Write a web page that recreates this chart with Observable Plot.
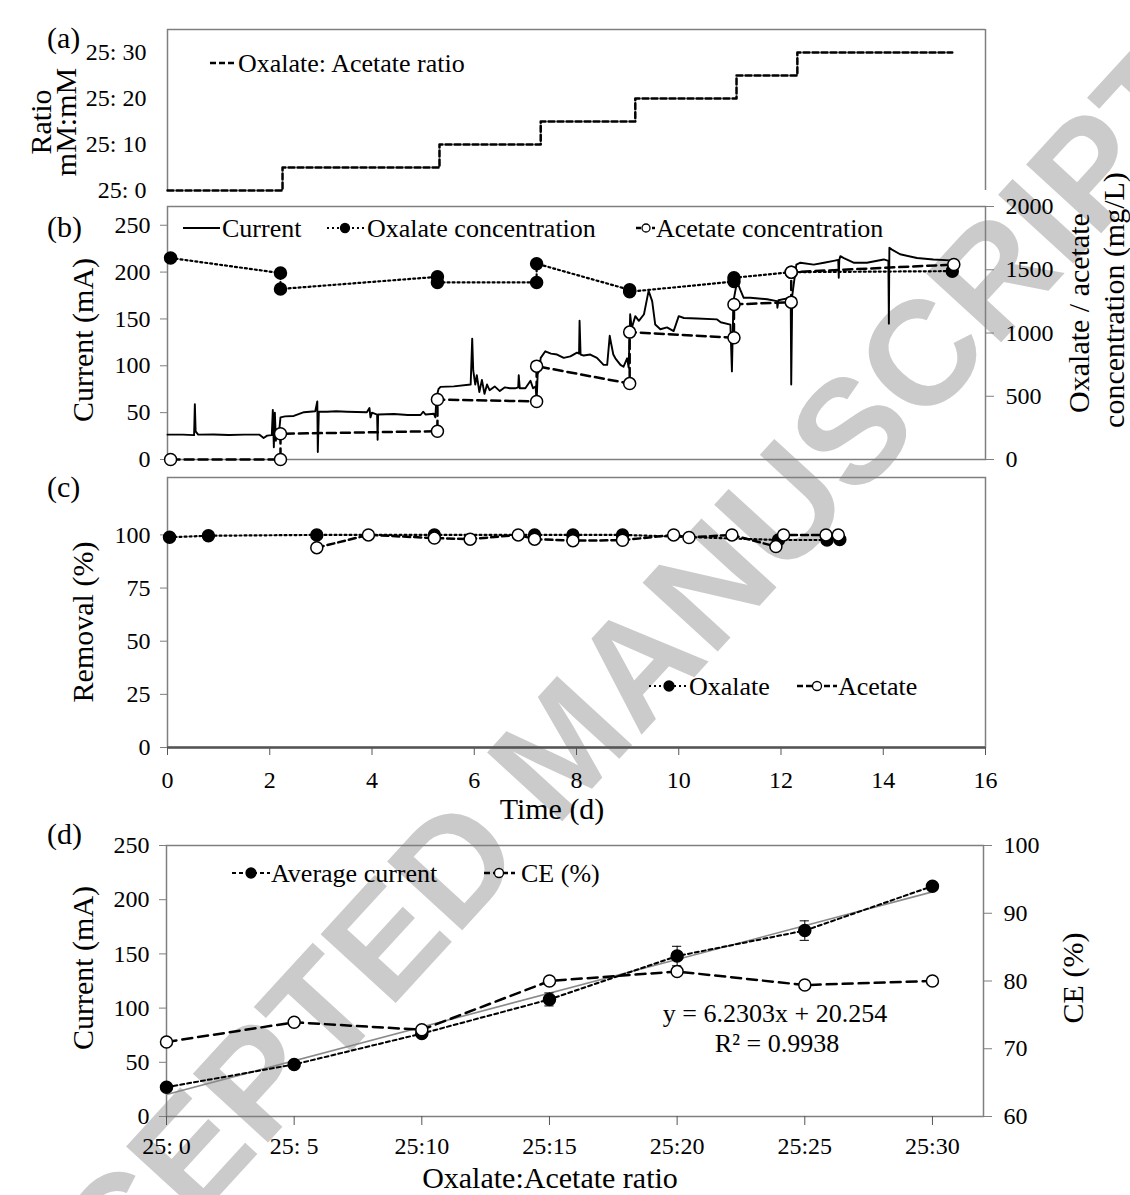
<!DOCTYPE html>
<html>
<head>
<meta charset="utf-8">
<script src="https://cdn.jsdelivr.net/npm/d3@7"></script>
<script src="https://cdn.jsdelivr.net/npm/@observablehq/plot@0.6"></script>
<style>
  body { margin: 0; background: #fff; }
  #wrap { position: relative; width: 1130px; height: 1195px; overflow: hidden; background: #fff; }
  #wrap > svg { position: absolute; left: 0; }
</style>
</head>
<body>
<div id="wrap"></div>
<script>
// ---------------- DATA ----------------
// (a) ratio steps (time d, acetate mM with oxalate fixed at 25 mM)
const ratioStepT = [0, 2.25, 5.32, 7.3, 9.15, 11.13, 12.32, 15.35];
const ratioStepV = [0, 5, 10, 15, 20, 25, 30, 30];
const ratioTicks = [0, 10, 20, 30];
const ratioTickLabels = ["25: 0", "25: 10", "25: 20", "25: 30"];

// (b) current trace (time d, mA)
const currentT = [0.00,0.30,0.52,0.535,0.55,0.60,0.90,1.20,1.50,1.80,
  1.88,1.95,2.04,2.06,2.08,2.10,2.12,2.14,2.18,2.21,
  2.30,2.47,2.67,2.89,2.93,2.94,2.96,3.12,3.30,3.51,
  3.90,3.95,3.97,4.00,4.10,4.11,4.12,4.43,4.70,4.95,
  5.00,5.05,5.21,5.24,5.26,5.30,5.34,5.60,5.93,5.96,
  5.98,6.02,6.05,6.10,6.15,6.20,6.25,6.30,6.40,6.50,
  6.60,6.70,6.80,6.86,6.87,6.89,7.00,7.10,7.15,7.20,
  7.22,7.24,7.27,7.30,7.39,7.50,7.62,7.75,7.88,8.01,
  8.05,8.06,8.08,8.14,8.27,8.40,8.53,8.60,8.65,8.68,
  8.72,8.76,8.86,8.92,8.99,9.02,9.05,9.08,9.15,9.22,
  9.32,9.41,9.48,9.54,9.64,9.77,9.90,10.00,10.10,10.36,
  10.75,10.82,11.01,11.04,11.06,11.07,11.14,11.20,11.27,11.40,
  11.73,11.92,11.93,11.95,12.12,12.17,12.19,12.20,12.22,12.30,
  12.38,12.64,12.84,13.03,13.12,13.13,13.14,13.16,13.23,13.42,
  13.68,14.01,14.10,14.11,14.12,14.17,14.33,14.66,14.98,15.31,
  15.36];
const currentMA = [26.5,26.5,26,59,30,26.5,26.7,26.2,26.5,26.5,
  23,25.5,26,53,13,50,20,32,28,45,
  46,46.5,50.5,51.5,62,8,51,51,51.5,51,
  50.5,55,45,50,48,21,48,48.5,47.5,47.5,
  51,48,48.8,45,66,75,77.5,78,80,129,
  95,80,90,72,85,70,80,74,78,73,
  77,76,76,77,90,76,76,84,76,78,
  62,91,95,108.5,115.5,113,112,108.5,110,114,
  113,148,112,111,112,108.5,101,101,132,123,
  112,108,101,99,108,98,155,140,153,148,
  155,180,169,144,139,141,137,153,151,150.5,
  149.5,146.5,144,94,145,169,190,181.5,172.6,172.6,
  171,169,162,170,172,169,172,80,175,208,
  210,208,210,212,213,194,213,217,215,210,
  210,213.5,212,145,226,224,219,215,213.5,212.5,
  212];
// (b) concentrations (time d, mg/L)
const oxConcT = [0.06,2.21,2.21,5.28,5.28,7.22,7.22,9.04,9.04,11.08,11.08,12.2,15.35];
const oxConc  = [1593,1474,1348,1444,1400,1400,1548,1341,1326,1407,1437,1481,1489];
const acConcT = [0.06,2.21,2.21,5.28,5.28,7.22,7.22,9.04,9.04,11.08,11.08,12.2,12.2,15.38];
const acConc  = [0,0,203,224,474,459,738,600,1007,963,1226,1244,1481,1541];
const currentTicks = [0, 50, 100, 150, 200, 250];
const concTicks = [0, 500, 1000, 1500, 2000];

// (c) removal (%)
const oxRemT = [0.04, 0.8, 2.92, 5.22, 7.18, 7.93, 8.9, 11.95, 12.9, 13.15];
const oxRem  = [98.9, 99.6, 100, 100, 100, 100, 100, 97.6, 97.6, 97.8];
const acRemT = [2.92, 3.93, 5.22, 5.92, 6.86, 7.18, 7.93, 8.9, 9.9, 10.2, 11.04, 11.9, 12.05, 12.88, 13.12];
const acRem  = [94, 100, 98.5, 98, 100, 98, 97.3, 97.5, 100, 98.8, 100, 94.5, 100, 100, 100];
const removalTicks = [0, 25, 50, 75, 100];
const timeTicks = [0, 2, 4, 6, 8, 10, 12, 14, 16];

// (d) average current and CE vs ratio
const ratioLabels = ["25: 0", "25: 5", "25:10", "25:15", "25:20", "25:25", "25:30"];
const acetateMM = [0, 5, 10, 15, 20, 25, 30];
const avgCurrent = [27, 48, 76.5, 108, 148, 171.5, 212.5];
const avgCurrentErr = [3, 3, 3, 6, 9, 9, 3];
const ce = [71, 73.9, 72.8, 80, 81.4, 79.4, 80];
const ceTicks = [60, 70, 80, 90, 100];
const trendX = [0, 30];
const trendY = [20.25, 207.2];

// ---------------- LAYOUT ----------------
const W = 1130, L = 167, R = 985;
const FONT = '"Liberation Serif", "Times New Roman", serif';
const wrap = document.getElementById("wrap");
const baseStyle = {background: "transparent", fontFamily: FONT, fontSize: "24px", color: "#000", overflow: "visible"};
const GRAY = "#7f7f7f";
function place(svg, top, z) { svg.style.position = "absolute"; svg.style.left = "0px"; svg.style.top = top + "px"; svg.style.zIndex = z || 2; wrap.appendChild(svg); }

// watermark (behind)
const wm = document.createElementNS("http://www.w3.org/2000/svg", "svg");
wm.setAttribute("width", W); wm.setAttribute("height", 1195);
wm.innerHTML = `<text x="600" y="780" text-anchor="middle" transform="rotate(-47.5 600 780)" font-family="'Liberation Sans', Arial, sans-serif" font-weight="bold" font-size="148" fill="#cbcbcb">ACCEPTED MANUSCRIPT</text>`;
place(wm, 0, 1);

// ---- (a) ----
const stepData = ratioStepT.map((t, i) => ({t, v: ratioStepV[i]}));
const pa = Plot.plot({
  width: W, height: 198, marginLeft: L, marginRight: W - R, marginTop: 29, marginBottom: 8,
  style: baseStyle,
  x: {domain: [0, 16], axis: null},
  y: {domain: [0, 35]},
  marks: [
    Plot.ruleX([0, 16], {stroke: GRAY, strokeWidth: 1.5}),
    Plot.ruleY([35], {stroke: GRAY, strokeWidth: 1.5}),
    Plot.axisY({anchor: "left", ticks: ratioTicks, tickFormat: d => ratioTickLabels[ratioTicks.indexOf(d)], tickSize: 0, tickPadding: 21, label: null}),
    Plot.line(stepData, {x: "t", y: "v", curve: "step-after", stroke: "#000", strokeWidth: 2.5, strokeDasharray: "6,3"})
  ]
});
place(pa, 0);

// ---- (b) ----
const kB = 270 / 2000;
const curData = currentT.map((t, i) => ({t, v: currentMA[i]}));
const oxData = oxConcT.map((t, i) => ({t, c: oxConc[i]}));
const acData = acConcT.map((t, i) => ({t, c: acConc[i]}));
const pb = Plot.plot({
  width: W, height: 271, marginLeft: L, marginRight: W - R, marginTop: 8, marginBottom: 10,
  style: baseStyle,
  x: {domain: [0, 16], axis: null},
  y: {domain: [0, 270]},
  marks: [
    Plot.frame({stroke: GRAY, strokeWidth: 1.5}),
    Plot.axisY({anchor: "left", ticks: currentTicks, tickSize: 7, tickPadding: 10, stroke: GRAY, fill: "#000", label: null}),
    Plot.axisY({anchor: "right", ticks: concTicks.map(v => v * kB), tickFormat: d => String(Math.round(d / kB)), tickSize: 8, tickPadding: 12, stroke: GRAY, fill: "#000", label: null}),
    Plot.line(curData, {x: "t", y: "v", stroke: "#000", strokeWidth: 1.9}),
    Plot.line(oxData, {x: "t", y: d => d.c * kB, stroke: "#000", strokeWidth: 2.2, strokeDasharray: "2,3"}),
    Plot.line(acData, {x: "t", y: d => d.c * kB, stroke: "#000", strokeWidth: 2.5, strokeDasharray: "9,5"}),
    Plot.dot(oxData, {x: "t", y: d => d.c * kB, r: 6, fill: "#000", stroke: "#000"}),
    Plot.dot(acData, {x: "t", y: d => d.c * kB, r: 6, fill: "#fff", stroke: "#000", strokeWidth: 1.5})
  ]
});
place(pb, 198);

// ---- (c) ----
const oxRemData = oxRemT.map((t, i) => ({t, v: oxRem[i]}));
const acRemData = acRemT.map((t, i) => ({t, v: acRem[i]}));
const pc = Plot.plot({
  width: W, height: 328, marginLeft: L, marginRight: W - R, marginTop: 8, marginBottom: 50,
  style: baseStyle,
  x: {domain: [0, 16]},
  y: {domain: [0, 127]},
  marks: [
    Plot.frame({stroke: GRAY, strokeWidth: 1.5}),
    Plot.ruleY([0], {stroke: "#555", strokeWidth: 2.5}),
    Plot.axisY({anchor: "left", ticks: removalTicks, tickSize: 7, tickPadding: 10, stroke: GRAY, fill: "#000", label: null}),
    Plot.axisX({anchor: "bottom", ticks: timeTicks, tickSize: 8, tickPadding: 15, stroke: "#555", fill: "#000", label: null}),
    Plot.line(oxRemData, {x: "t", y: "v", stroke: "#000", strokeWidth: 2.2, strokeDasharray: "2,3"}),
    Plot.line(acRemData, {x: "t", y: "v", stroke: "#000", strokeWidth: 2.5, strokeDasharray: "7,4"}),
    Plot.dot(oxRemData, {x: "t", y: "v", r: 6, fill: "#000", stroke: "#000"}),
    Plot.dot(acRemData, {x: "t", y: "v", r: 6, fill: "#fff", stroke: "#000", strokeWidth: 1.5})
  ]
});
place(pc, 469);

// ---- (d) ----
const kD = 250 / 40;
const avgData = acetateMM.map((x, i) => ({x, y: avgCurrent[i], e: avgCurrentErr[i]}));
const ceData = acetateMM.map((x, i) => ({x, c: ce[i]}));
const trendData = trendX.map((x, i) => ({x, y: trendY[i]}));
const pd = Plot.plot({
  width: W, height: 361, marginLeft: L - 1, marginRight: W - R + 2, marginTop: 45, marginBottom: 45,
  style: baseStyle,
  x: {domain: [0, 32]},
  y: {domain: [0, 250]},
  marks: [
    Plot.frame({stroke: GRAY, strokeWidth: 1.5}),
    Plot.axisY({anchor: "left", ticks: currentTicks, tickSize: 7, tickPadding: 10, stroke: GRAY, fill: "#000", label: null}),
    Plot.axisY({anchor: "right", ticks: ceTicks.map(c => (c - 60) * kD), tickFormat: d => String(Math.round(d / kD + 60)), tickSize: 8, tickPadding: 12, stroke: GRAY, fill: "#000", label: null}),
    Plot.axisX({anchor: "bottom", ticks: acetateMM, tickFormat: d => ratioLabels[acetateMM.indexOf(d)], tickSize: 9, tickPadding: 11, stroke: "#555", fill: "#000", label: null}),
    Plot.line(trendData, {x: "x", y: "y", stroke: "#8a8a8a", strokeWidth: 1.6}),
    Plot.line(avgData, {x: "x", y: "y", stroke: "#000", strokeWidth: 2, strokeDasharray: "4,3"}),
    Plot.ruleX(avgData, {x: "x", y1: d => d.y - d.e, y2: d => d.y + d.e, stroke: "#000", strokeWidth: 1}),
    Plot.ruleY(avgData, {x1: d => d.x - 0.18, x2: d => d.x + 0.18, y: d => d.y + d.e, stroke: "#000", strokeWidth: 1}),
    Plot.ruleY(avgData, {x1: d => d.x - 0.18, x2: d => d.x + 0.18, y: d => d.y - d.e, stroke: "#000", strokeWidth: 1}),
    Plot.line(ceData, {x: "x", y: d => (d.c - 60) * kD, stroke: "#000", strokeWidth: 2.5, strokeDasharray: "10,6"}),
    Plot.dot(avgData, {x: "x", y: "y", r: 6, fill: "#000", stroke: "#000"}),
    Plot.dot(ceData, {x: "x", y: d => (d.c - 60) * kD, r: 6, fill: "#fff", stroke: "#000", strokeWidth: 1.5})
  ]
});
place(pd, 800);

// ---- overlay: labels, titles, legends ----
const ov = document.createElementNS("http://www.w3.org/2000/svg", "svg");
ov.setAttribute("width", W); ov.setAttribute("height", 1195);
ov.setAttribute("font-family", FONT);
function txt(x, y, s, size, anchor, rot) {
  const tr = rot ? ` transform="rotate(${rot} ${x} ${y})"` : "";
  return `<text x="${x}" y="${y}" font-size="${size}" text-anchor="${anchor || "start"}" dominant-baseline="central" fill="#000"${tr}>${s}</text>`;
}
function seg(x1, x2, y, dash, w) {
  return `<line x1="${x1}" x2="${x2}" y1="${y}" y2="${y}" stroke="#000" stroke-width="${w}"${dash ? ` stroke-dasharray="${dash}"` : ""}/>`;
}
function dot(x, y, r, open) {
  return `<circle cx="${x}" cy="${y}" r="${r}" fill="${open ? "#fff" : "#000"}" stroke="#000" stroke-width="1.3"/>`;
}
let s = "";
// panel labels
s += txt(47, 37, "(a)", 30) + txt(47, 226, "(b)", 30) + txt(47, 486, "(c)", 30) + txt(47, 833, "(d)", 30);
// axis titles
s += txt(40, 122, "Ratio", 30, "middle", -90) + txt(65, 122, "mM:mM", 30, "middle", -90);
s += txt(82, 340, "Current (mA)", 30, "middle", -90);
s += txt(1078, 313, "Oxalate / acetate", 30, "middle", -90);
s += txt(1113, 300, "concentration (mg/L)", 30, "middle", -90);
s += txt(82, 622, "Removal (%)", 30, "middle", -90);
s += txt(552, 808, "Time (d)", 30, "middle");
s += txt(82, 968, "Current (mA)", 30, "middle", -90);
s += txt(1072, 978, "CE (%)", 30, "middle", -90);
s += txt(550, 1177, "Oxalate:Acetate ratio", 30, "middle");
// legend (a)
s += seg(210, 237, 63, "6,3", 2.5) + txt(238, 63, "Oxalate: Acetate ratio", 26);
// legend (b)
s += seg(183, 220, 228, null, 1.8) + txt(222, 228, "Current", 26);
s += seg(327, 365, 228, "2,3", 2.2) + dot(345, 228, 4.5, false) + txt(367, 228, "Oxalate concentration", 26);
s += seg(636, 655, 228, "5,3", 2.5) + dot(646, 228, 4, true) + txt(656, 228, "Acetate concentration", 26);
// legend (c)
s += seg(649, 686, 686, "2,3", 2.2) + dot(669, 686, 5, false) + txt(689, 686, "Oxalate", 26);
s += seg(797, 837, 686, "6,3", 2.5) + dot(817, 686, 4.5, true) + txt(838, 686, "Acetate", 26);
// legend (d)
s += seg(232, 270, 873, "4,3", 2) + dot(251, 873, 5, false) + txt(271, 873, "Average current", 26);
s += seg(484, 515, 873, "6,3", 2.5) + dot(499, 873, 4.5, true) + txt(521, 873, "CE (%)", 26);
// trendline equation
s += txt(775, 1013, "y = 6.2303x + 20.254", 26, "middle");
s += txt(777, 1043, "R² = 0.9938", 26, "middle");
ov.innerHTML = s;
place(ov, 0, 3);
</script>
</body>
</html>
